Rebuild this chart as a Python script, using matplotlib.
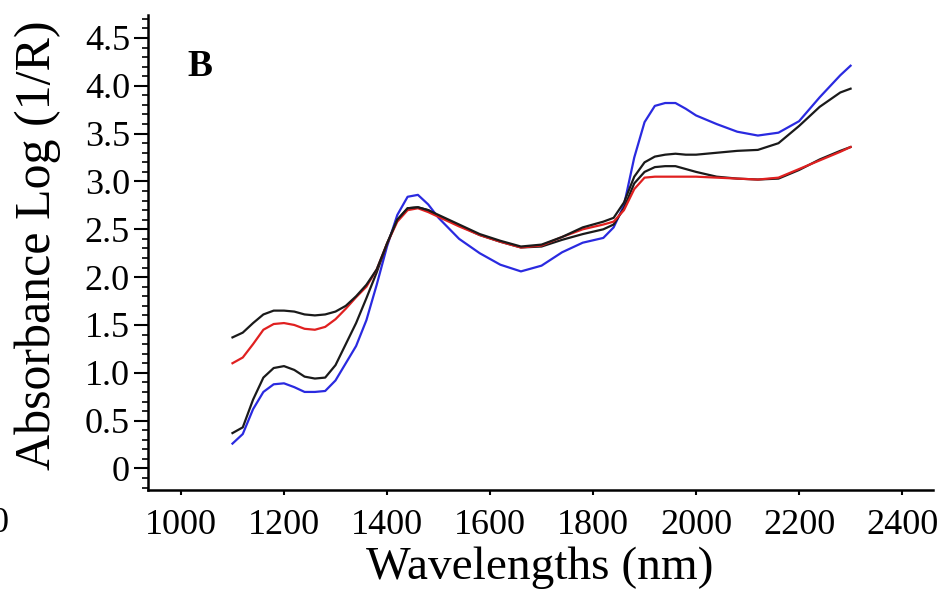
import matplotlib
matplotlib.use("Agg")
import matplotlib.pyplot as plt
from matplotlib.ticker import MultipleLocator

# Wavelength grid (nm)
wavelengths = [1100, 1120, 1140, 1160, 1180, 1200, 1220, 1240, 1260, 1280, 1300,
               1320, 1340, 1360, 1380, 1400, 1420, 1440, 1460, 1480, 1500, 1540,
               1580, 1620, 1660, 1700, 1740, 1780, 1820, 1840, 1860, 1880, 1900,
               1920, 1940, 1960, 1980, 2000, 2040, 2080, 2120, 2160, 2200, 2240,
               2280, 2300]

black_upper = [1.37, 1.42, 1.52, 1.61, 1.65, 1.65, 1.64, 1.61, 1.60, 1.61, 1.64,
               1.70, 1.80, 1.92, 2.08, 2.35, 2.60, 2.72, 2.73, 2.70, 2.65, 2.55,
               2.45, 2.38, 2.32, 2.34, 2.42, 2.52, 2.58, 2.62, 2.78, 3.05, 3.20,
               3.26, 3.28, 3.29, 3.28, 3.28, 3.30, 3.32, 3.33, 3.40, 3.58, 3.78,
               3.93, 3.97]

red = [1.10, 1.16, 1.30, 1.45, 1.51, 1.52, 1.50, 1.46, 1.45, 1.48, 1.56,
       1.67, 1.79, 1.90, 2.08, 2.35, 2.58, 2.70, 2.72, 2.68, 2.63, 2.53,
       2.44, 2.37, 2.31, 2.33, 2.42, 2.50, 2.55, 2.58, 2.70, 2.92, 3.04,
       3.05, 3.05, 3.05, 3.05, 3.05, 3.04, 3.03, 3.02, 3.04, 3.13, 3.22,
       3.31, 3.36]

black_lower = [0.37, 0.43, 0.72, 0.95, 1.05, 1.07, 1.03, 0.96, 0.94, 0.95, 1.08,
               1.30, 1.52, 1.78, 2.05, 2.35, 2.60, 2.72, 2.73, 2.70, 2.64, 2.54,
               2.44, 2.37, 2.31, 2.32, 2.39, 2.45, 2.50, 2.55, 2.72, 2.98, 3.10,
               3.15, 3.16, 3.16, 3.13, 3.10, 3.05, 3.03, 3.02, 3.03, 3.12, 3.23,
               3.32, 3.36]

blue = [0.26, 0.36, 0.62, 0.80, 0.88, 0.89, 0.85, 0.80, 0.80, 0.81, 0.92,
        1.10, 1.28, 1.55, 1.92, 2.32, 2.65, 2.84, 2.86, 2.76, 2.62, 2.40,
        2.25, 2.13, 2.06, 2.12, 2.26, 2.36, 2.41, 2.52, 2.75, 3.25, 3.62,
        3.79, 3.82, 3.82, 3.76, 3.69, 3.60, 3.52, 3.48, 3.51, 3.63, 3.88,
        4.11, 4.21]

x_ticks = [1000, 1200, 1400, 1600, 1800, 2000, 2200, 2400]
y_ticks = [0, 0.5, 1.0, 1.5, 2.0, 2.5, 3.0, 3.5, 4.0, 4.5]
y_ticklabels = ["0", "0.5", "1.0", "1.5", "2.0", "2.5", "3.0", "3.5", "4.0", "4.5"]

plt.rcParams['font.family'] = ['Liberation Serif', 'DejaVu Serif']

W, H = 947, 598
fig = plt.figure(figsize=(W / 100, H / 100), dpi=100)
ax = fig.add_axes([148 / W, 1 - 490 / H, (933 - 148) / W, (490 - 15) / H])

ax.plot(wavelengths, blue, color='#2a2ae0', lw=1.6, zorder=2)
ax.plot(wavelengths, black_lower, color='#1a1a1a', lw=1.6, zorder=3)
ax.plot(wavelengths, red, color='#e02020', lw=1.6, zorder=3)
ax.plot(wavelengths, black_upper, color='#1a1a1a', lw=1.6, zorder=4)

ax.set_xlim(936, 2460)
ax.set_ylim(-0.225, 4.74)

ax.set_xticks(x_ticks)
ax.set_xticklabels([str(v) for v in x_ticks])
ax.set_yticks(y_ticks)
ax.set_yticklabels(y_ticklabels)
ax.yaxis.set_minor_locator(MultipleLocator(0.1))

for s in ['top', 'right']:
    ax.spines[s].set_visible(False)
for s in ['left', 'bottom']:
    ax.spines[s].set_linewidth(1.8)

ax.tick_params(axis='x', which='major', direction='out', length=3.5, width=1.5,
               labelsize=26, pad=10)
ax.tick_params(axis='y', which='major', direction='out', length=10, width=1.5,
               labelsize=26, pad=3)
ax.tick_params(axis='y', which='minor', direction='out', length=4, width=1.2)

fig.text(540 / W, 1 - 568 / H, 'Wavelengths (nm)', fontsize=34,
         ha='center', va='center')
fig.text(38 / W, 1 - 245 / H, 'Absorbance Log (1/R)', fontsize=36,
         rotation=90, ha='center', va='center')

fig.text(200 / W, 1 - 67 / H, 'B', fontsize=27, fontweight='bold',
         ha='center', va='center')
# fragment of neighbouring panel's tick label at the left edge
fig.text(9 / W, 1 - 523 / H, '0', fontsize=26, ha='right', va='center')

fig.savefig('out.png', dpi=100)
